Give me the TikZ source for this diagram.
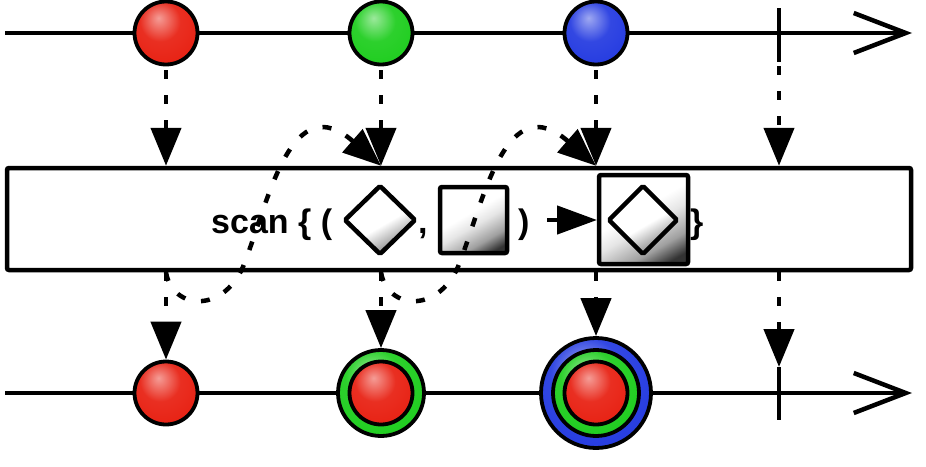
\documentclass[tikz,border=0pt]{standalone}
\usepackage{fontspec}
\setmainfont{Liberation Sans}
\usetikzlibrary{arrows.meta}
\definecolor{rxred}{RGB}{232,36,22}
\definecolor{rxgreen}{RGB}{34,206,34}
\definecolor{rxblue}{RGB}{40,62,225}
\pgfdeclareradialshading{ballR}{\pgfpoint{-6bp}{12bp}}{color(0bp)=(rxred!45!white); color(16bp)=(rxred!95!white); color(30bp)=(rxred); color(50bp)=(rxred!88!black); color(70bp)=(rxred!80!black)}
\pgfdeclareradialshading{ballG}{\pgfpoint{-6bp}{12bp}}{color(0bp)=(rxgreen!45!white); color(16bp)=(rxgreen!95!white); color(30bp)=(rxgreen); color(50bp)=(rxgreen!88!black); color(70bp)=(rxgreen!80!black)}
\pgfdeclareradialshading{ballB}{\pgfpoint{-6bp}{12bp}}{color(0bp)=(rxblue!45!white); color(16bp)=(rxblue!95!white); color(30bp)=(rxblue); color(50bp)=(rxblue!88!black); color(70bp)=(rxblue!80!black)}
\pgfdeclareverticalshading{boxgrad}{100bp}{color(0bp)=(black!80); color(22bp)=(black!80); color(32bp)=(gray!75); color(46bp)=(gray!20); color(56bp)=(white); color(100bp)=(white)}
\pgfdeclareverticalshading{diagrad}{100bp}{color(0bp)=(gray!70); color(32bp)=(gray!70); color(46bp)=(white); color(100bp)=(white)}
\begin{document}
\begin{tikzpicture}[x=1pt,y=-1pt,
  line/.style={line width=4.5pt},
  dots/.style={line width=4.5pt, dash pattern=on 9pt off 16pt},
  tip/.style={-{Triangle[length=38pt,width=30pt]}},
  ball/.style={circle, draw, line width=3.8pt, minimum size=63pt, inner sep=0pt, shading=#1},
  ring/.style={circle, draw, line width=3.8pt, inner sep=0pt, shading=#1},
  lbl/.style={anchor=base west, inner sep=0pt, font=\bfseries\fontsize{34}{40}\selectfont},
  shapebox/.style={draw, line width=4.5pt, rounded corners=2pt, shading=boxgrad, shading angle=30},
  diam/.style={draw, line width=4.5pt, rounded corners=1.5pt, shading=diagrad, shading angle=30}]
\useasboundingbox (0,0) rectangle (926,466);
\fill[white] (0,0) rectangle (926,466);
% timelines
\coordinate (s1) at (5,33);
\coordinate (e1) at (912,33);
\coordinate (s2) at (5,393);
\coordinate (e2) at (912,393);
\draw[line, -{Straight Barb[length=52pt,width=40pt]}] (s1) -- (e1);
\draw[line, -{Straight Barb[length=52pt,width=40pt]}] (s2) -- (e2);
% ticks
\coordinate (k1t) at (779,8);
\coordinate (k1b) at (779,62);
\coordinate (k2t) at (779,367);
\coordinate (k2b) at (779,420);
\draw[line] (k1t) -- (k1b);
\draw[line] (k2t) -- (k2b);
% operator box
\node[draw, line width=4.5pt, fill=white, rounded corners=2pt, minimum width=904pt, minimum height=102pt, inner sep=0pt] (op) at (459,219) {};
% top balls
\node[ball=ballR] (r1) at (166,33) {};
\node[ball=ballG] (g1) at (381,33) {};
\node[ball=ballB] (b1) at (596,33) {};
% bottom balls
\node[ball=ballR] (r2) at (166,393) {};
\node[ring=ballG, minimum size=86pt] (g2) at (381,393) {};
\node[ball=ballR] (r3) at (381,393) {};
\node[ring=ballB, minimum size=110pt] (b2) at (596,393) {};
\node[ring=ballG, minimum size=86pt] (g3) at (596,393) {};
\node[ball=ballR] (r4) at (596,393) {};
% label content
\node[lbl] (t1) at (211,233) {scan \{ (};
\draw[diam] (345,220) -- (380,186) -- (415,220) -- (380,254) -- cycle;
\node[lbl] (t2) at (418,233) {,};
\draw[shapebox] (440,187) rectangle (507,253);
\node[lbl] (t3) at (518,233) {)};
\coordinate (a1) at (547,220);
\coordinate (a2) at (597,220);
\draw[line width=4.5pt, -{Triangle[length=40pt,width=28pt]}] (a1) -- (a2);
\draw[shapebox] (599,175) rectangle (688,264);
\draw[diam] (609,220) -- (643,186) -- (677,220) -- (643,254) -- cycle;
\node[lbl] (t4) at (690,233) {\}};
% top arrows
\draw[dots, tip, shorten <=4pt] (r1.south) -- (r1.south |- op.north);
\draw[dots, tip, shorten <=4pt] (g1.south) -- (g1.south |- op.north);
\draw[dots, tip, shorten <=4pt] (b1.south) -- (b1.south |- op.north);
\draw[dots, tip, shorten <=4pt] (k1b) -- (k1b |- op.north);
% bottom arrows
\draw[dots, tip] (op.south -| r2) -- (r2.north);
\draw[dots, tip] (op.south -| g2) -- (g2.north);
\draw[dots, tip] (op.south -| b2) -- (b2.north);
\draw[dots, tip] (op.south -| k2t) -- (k2t);
% feedback curves
\draw[dots, tip] (op.south -| r2) .. controls (172,310) and (225,315) .. (245,262) .. controls (270,195) and (292,88) .. (op.north -| g1);
\draw[dots, tip] (op.south -| g2) .. controls (387,310) and (440,315) .. (460,262) .. controls (485,195) and (507,88) .. (op.north -| b1);
\end{tikzpicture}
\end{document}
